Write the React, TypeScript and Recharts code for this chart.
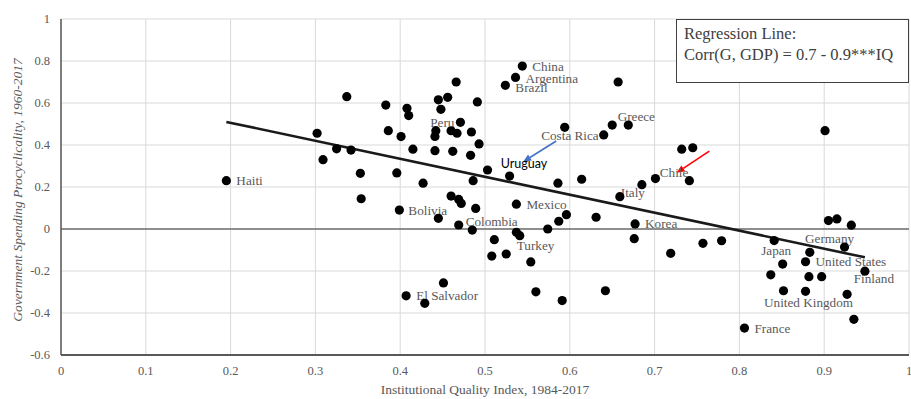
import React from "react";
import {
  ScatterChart,
  Scatter,
  XAxis,
  YAxis,
  CartesianGrid,
  ReferenceLine,
  ReferenceDot,
} from "recharts";

// ---- Data ----
const iqIndex = [
  0.195, 0.337, 0.383, 0.408, 0.41, 0.445, 0.456, 0.466, 0.448, 0.302,
  0.386, 0.401, 0.325, 0.342, 0.309, 0.415, 0.441, 0.462, 0.442, 0.441,
  0.46, 0.467, 0.471, 0.353, 0.396, 0.427, 0.354, 0.399, 0.46, 0.469,
  0.445, 0.469, 0.544, 0.536, 0.524, 0.657, 0.491, 0.484, 0.493, 0.483,
  0.594, 0.65, 0.669, 0.64, 0.732, 0.745, 0.503, 0.529, 0.486, 0.586,
  0.614, 0.701, 0.741, 0.685, 0.659, 0.472, 0.489, 0.537, 0.596, 0.587,
  0.631, 0.677, 0.485, 0.511, 0.537, 0.541, 0.574, 0.508, 0.525, 0.554,
  0.451, 0.407, 0.429, 0.56, 0.676, 0.591, 0.642, 0.719, 0.757, 0.779,
  0.841, 0.837, 0.806, 0.901, 0.905, 0.915, 0.932, 0.924, 0.883, 0.851,
  0.878, 0.882, 0.897, 0.948, 0.852, 0.878, 0.927, 0.935,
];

const procyclicality = [
  0.23, 0.63, 0.59, 0.575, 0.54, 0.615, 0.627, 0.7, 0.57, 0.456,
  0.468, 0.44, 0.382, 0.376, 0.33, 0.38, 0.373, 0.37, 0.468, 0.441,
  0.468, 0.456, 0.508, 0.265, 0.267, 0.218, 0.144, 0.09, 0.157, 0.141,
  0.051, 0.019, 0.776, 0.722, 0.684, 0.7, 0.605, 0.462, 0.405, 0.351,
  0.484, 0.495, 0.495, 0.448, 0.38, 0.387, 0.281, 0.252, 0.23, 0.218,
  0.237, 0.24, 0.23, 0.211, 0.154, 0.122, 0.098, 0.118, 0.068, 0.037,
  0.056, 0.024, -0.005, -0.051, -0.016, -0.032, 0.0, -0.129, -0.119, -0.157,
  -0.257, -0.318, -0.354, -0.299, -0.046, -0.341, -0.294, -0.116, -0.068, -0.056,
  -0.055, -0.218, -0.472, 0.468, 0.04, 0.048, 0.018, -0.086, -0.111, -0.167,
  -0.156, -0.227, -0.227, -0.201, -0.294, -0.297, -0.311, -0.43,
];

const countryLabels = [
  "Haiti", "", "", "", "", "", "", "", "", "",
  "", "", "", "", "", "", "", "", "", "",
  "", "", "Peru", "", "", "", "", "Bolivia", "", "",
  "", "Colombia", "China", "Argentina", "Brazil", "", "", "", "", "",
  "", "", "Greece", "Costa Rica", "", "", "", "", "", "",
  "", "", "Chile", "Italy", "", "", "", "Mexico", "", "",
  "", "Korea", "", "", "", "Turkey", "", "", "", "",
  "", "El Salvador", "", "", "", "", "", "", "", "",
  "Japan", "", "France", "", "", "", "", "Germany", "", "",
  "United States", "", "", "Finland", "", "United Kingdom", "", "",
];

// Regression line end points (IQ, fitted value)
const regressionIQ = [0.195, 0.948];
const regressionFit = [0.51, -0.135];

// Annotation (Uruguay) and arrows, in data units
const annotationText = "Uruguay";
const annotationAt = { x: 0.546, y: 0.31 };
const arrowFrom = [
  { x: 0.584, y: 0.419 },
  { x: 0.7645, y: 0.371 },
];
const arrowTo = [
  { x: 0.545, y: 0.32 },
  { x: 0.726, y: 0.268 },
];
const arrowColors = ["#4472C4", "#FF0000"];

const xTicks = [0, 0.1, 0.2, 0.3, 0.4, 0.5, 0.6, 0.7, 0.8, 0.9, 1];
const yTicks = [-0.6, -0.4, -0.2, 0, 0.2, 0.4, 0.6, 0.8, 1];

const regressionTitle = "Regression Line:";
const regressionFormula = "Corr(G, GDP) = 0.7 - 0.9***IQ";
const xTitle = "Institutional Quality Index, 1984-2017";
const yTitle = "Government Spending Procyclicality, 1960-2017";

// ---- Styling ----
const SERIF = "'Liberation Serif', 'DejaVu Serif', serif";
const LABEL_COLOR = "#595959";

type LabelPlace = { dx: number; dy: number; anchor: "start" | "middle" | "end" };
const labelPlacement: Record<string, LabelPlace> = {
  Haiti: { dx: 10, dy: 0, anchor: "start" },
  Peru: { dx: -6, dy: 0, anchor: "end" },
  Bolivia: { dx: 9, dy: 0, anchor: "start" },
  Colombia: { dx: 7, dy: -4, anchor: "start" },
  China: { dx: 10, dy: 0, anchor: "start" },
  Argentina: { dx: 10, dy: 1, anchor: "start" },
  Brazil: { dx: 10, dy: 2, anchor: "start" },
  Greece: { dx: 8, dy: -9, anchor: "middle" },
  "Costa Rica": { dx: -5, dy: 1, anchor: "end" },
  Chile: { dx: -1, dy: -8, anchor: "end" },
  Italy: { dx: -9, dy: 8, anchor: "middle" },
  Mexico: { dx: 10, dy: 0, anchor: "start" },
  Korea: { dx: 10, dy: 0, anchor: "start" },
  Turkey: { dx: -3, dy: 10, anchor: "start" },
  "El Salvador": { dx: 10, dy: 0, anchor: "start" },
  Japan: { dx: 2, dy: 10, anchor: "middle" },
  Germany: { dx: -15, dy: -9, anchor: "middle" },
  "United States": { dx: 10, dy: 0, anchor: "start" },
  Finland: { dx: 9, dy: 7, anchor: "middle" },
  "United Kingdom": { dx: 3, dy: 11, anchor: "middle" },
  France: { dx: 10, dy: 0, anchor: "start" },
};

const points = iqIndex.map((x, i) => ({
  x,
  y: procyclicality[i],
  name: countryLabels[i],
}));
const regressionData = regressionIQ.map((x, i) => ({ x, y: regressionFit[i] }));

const fmt = (v: number) => {
  const r = Math.round(v * 10) / 10;
  return String(r);
};

const DotShape = (props: any) => {
  const { cx, cy, payload } = props;
  if (cx == null || cy == null) return <g />;
  const name: string = payload?.name || "";
  const place = name ? labelPlacement[name] : undefined;
  return (
    <g>
      <circle cx={cx} cy={cy} r={4.6} fill="#000" />
      {place && (
        <text
          x={cx + place.dx}
          y={cy + place.dy}
          textAnchor={place.anchor}
          dominantBaseline="central"
          fontFamily={SERIF}
          fontSize={13.2}
          fill={LABEL_COLOR}
        >
          {name}
        </text>
      )}
    </g>
  );
};

const makeArrow = (color: string) => (props: any) => {
  const { x1, y1, x2, y2 } = props;
  if ([x1, y1, x2, y2].some((v) => v == null || isNaN(v))) return <g />;
  const ang = Math.atan2(y2 - y1, x2 - x1);
  const len = 8;
  const w = 3.5;
  const bx = x2 - len * Math.cos(ang);
  const by = y2 - len * Math.sin(ang);
  const px = -Math.sin(ang) * w;
  const py = Math.cos(ang) * w;
  return (
    <g>
      <line x1={x1} y1={y1} x2={bx} y2={by} stroke={color} strokeWidth={1.6} />
      <polygon
        points={`${x2},${y2} ${bx + px},${by + py} ${bx - px},${by - py}`}
        fill={color}
      />
    </g>
  );
};

const AnnotationShape = (props: any) => {
  const { cx, cy } = props;
  if (cx == null || cy == null) return <g />;
  return (
    <text
      x={cx}
      y={cy}
      textAnchor="middle"
      dominantBaseline="central"
      fontFamily="Lato, 'Open Sans', sans-serif"
      fontSize={12.5}
      fill="#000"
    >
      {annotationText}
    </text>
  );
};

export default function App() {
  return (
    <div
      style={{
        position: "absolute",
        left: 0,
        top: 0,
        width: 911,
        height: 399,
        background: "#fff",
      }}
    >
      <ScatterChart
        width={911}
        height={399}
        margin={{ top: 19, right: 2, bottom: 0, left: 0 }}
      >
        <CartesianGrid stroke="#d9d9d9" strokeWidth={1} />
        <XAxis
          type="number"
          dataKey="x"
          domain={[0, 1]}
          ticks={xTicks}
          tickFormatter={fmt}
          height={44}
          tickLine={false}
          tickMargin={5}
          axisLine={{ stroke: "#595959", strokeWidth: 2 }}
          tick={{ fontFamily: SERIF, fontSize: 12.5, fill: LABEL_COLOR }}
          interval={0}
          allowDataOverflow
          label={{
            content: (p: any) => {
              const vb = p.viewBox || { x: 61, y: 355, width: 848 };
              return (
                <text
                  x={vb.x + vb.width / 2}
                  y={vb.y + 34}
                  textAnchor="middle"
                  dominantBaseline="central"
                  fontFamily={SERIF}
                  fontSize={13.5}
                  fill={LABEL_COLOR}
                >
                  {xTitle}
                </text>
              );
            },
          }}
        />
        <YAxis
          type="number"
          dataKey="y"
          domain={[-0.6, 1]}
          ticks={yTicks}
          tickFormatter={fmt}
          width={61}
          tickLine={false}
          tickMargin={5}
          axisLine={{ stroke: "#595959", strokeWidth: 1.5 }}
          tick={{ fontFamily: SERIF, fontSize: 12.5, fill: LABEL_COLOR }}
          interval={0}
          allowDataOverflow
          label={{
            content: (p: any) => {
              const vb = p.viewBox || { x: 0, y: 19, width: 61, height: 336 };
              const cx = 17;
              const cy = vb.y + vb.height / 2 + 3;
              return (
                <text
                  x={cx}
                  y={cy}
                  transform={`rotate(-90, ${cx}, ${cy})`}
                  textAnchor="middle"
                  dominantBaseline="central"
                  fontFamily={SERIF}
                  fontStyle="italic"
                  fontSize={13.5}
                  fill={LABEL_COLOR}
                >
                  {yTitle}
                </text>
              );
            },
          }}
        />
        <ReferenceLine y={0} stroke="#6f6f6f" strokeWidth={1.4} />
        <Scatter
          data={regressionData}
          line={{ stroke: "#1a1a1a", strokeWidth: 2.6 }}
          shape={() => <g />}
          isAnimationActive={false}
        />
        <Scatter data={points} shape={DotShape} isAnimationActive={false} />
        {arrowFrom.map((from, i) => (
          <ReferenceLine
            key={`arrow-${i}`}
            segment={[from, arrowTo[i]]}
            shape={makeArrow(arrowColors[i])}
          />
        ))}
        <ReferenceDot
          x={annotationAt.x}
          y={annotationAt.y}
          r={0}
          shape={AnnotationShape}
        />
      </ScatterChart>
      <div
        style={{
          position: "absolute",
          left: 676,
          top: 19,
          width: 233,
          height: 64,
          boxSizing: "border-box",
          border: "1.5px solid #404040",
          background: "#fff",
          paddingLeft: 7,
          paddingTop: 3,
          fontFamily: SERIF,
          fontSize: 16.5,
          lineHeight: "21px",
          color: "#404040",
          whiteSpace: "nowrap",
        }}
      >
        <div>{regressionTitle}</div>
        <div>{regressionFormula}</div>
      </div>
    </div>
  );
}
